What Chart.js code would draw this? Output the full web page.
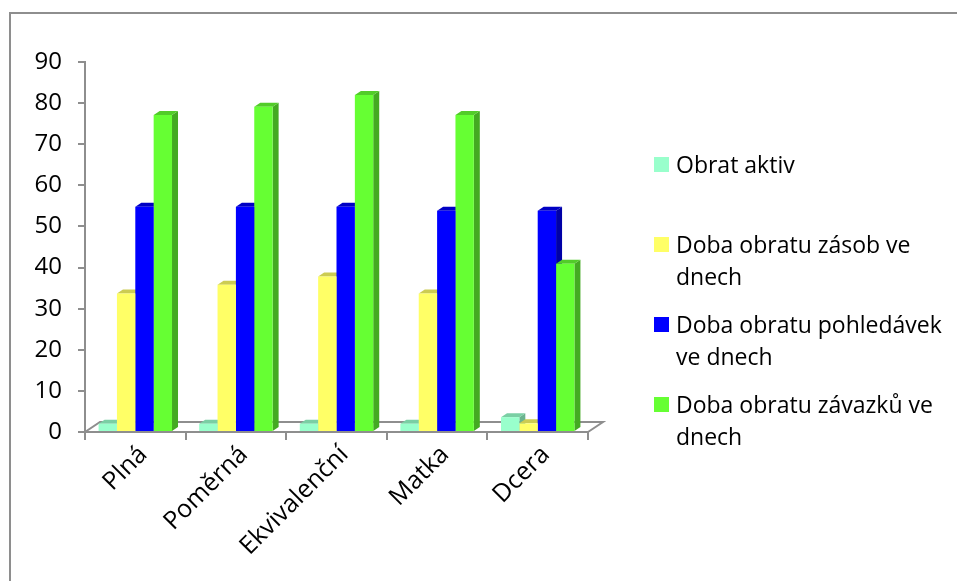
<!DOCTYPE html>
<html>
<head>
<meta charset="utf-8">
<script src="https://cdn.jsdelivr.net/npm/chart.js@4"></script>
<style>
  html, body { margin: 0; padding: 0; background: #fff; }
  #wrap { position: relative; width: 957px; height: 581px; overflow: hidden; }
  #frame { position: absolute; left: 9px; top: 12px; width: 1200px; height: 1200px; border: 2px solid #8e8e8e; }
  #c { position: absolute; left: 0; top: 0; }
  #legend { position: absolute; left: 654px; top: 148px; font-family: 'Open Sans', sans-serif; font-size: 23px; line-height: 32px; color: #000; }
  .item { position: relative; height: 80px; padding-left: 22px; width: 275px; }
  .sw { position: absolute; left: 0; top: 9px; width: 15px; height: 15px; }
</style>
</head>
<body>
<div id="wrap">
  <div id="frame"></div>
  <canvas id="c" width="957" height="581"></canvas>
  <div id="legend"></div>
</div>
<script>
// Methods of consolidation / entities
const categories = ['Plná', 'Poměrná', 'Ekvivalenční', 'Matka', 'Dcera'];

const seriesNames = [
  'Obrat aktiv',
  'Doba obratu zásob ve dnech',
  'Doba obratu pohledávek ve dnech',
  'Doba obratu závazků ve dnech'
];

// Indicator values per category
const obratAktiv     = [2.0, 2.0, 2.0, 2.0, 3.6];
const dobaZasob      = [33.7, 35.8, 37.8, 33.7, 2.1];
const dobaPohledavek = [54.8, 54.8, 54.8, 53.8, 53.8];
const dobaZavazku    = [77.1, 79.1, 82.0, 77.1, 40.9];

const yMin = 0, yMax = 90, yStep = 10;

// Front / top / side shades for each series
const frontColors = ['#99ffcc', '#ffff66', '#0000ff', '#66ff33'];
const topColors   = ['#7acfa4', '#cccc52', '#0000c4', '#52cc29'];
const sideColors  = ['#6bb38f', '#b3b347', '#0000a6', '#44aa22'];

const seriesValues = [obratAktiv, dobaZasob, dobaPohledavek, dobaZavazku];

const GRAY = '#8e8e8e';
const FAMILY = "'Open Sans', sans-serif";

// Pseudo-3D: floor outline plus top and side faces behind each bar's front face
const depthFaces = {
  id: 'depthFaces',
  beforeDatasetsDraw(chart) {
    const ctx = chart.ctx;
    const xs = chart.scales.x, ys = chart.scales.y;
    const fx = 15, fy = -10;   // floor depth
    const bx = 6, by = -4;     // bar depth
    ctx.save();
    ctx.strokeStyle = GRAY;
    ctx.lineWidth = 2;
    ctx.beginPath();
    ctx.moveTo(xs.left, ys.bottom);
    ctx.lineTo(xs.left + fx, ys.bottom + fy);
    ctx.lineTo(xs.right + fx, ys.bottom + fy);
    ctx.lineTo(xs.right, ys.bottom);
    ctx.stroke();

    const bars = [];
    chart.data.datasets.forEach((ds, i) => {
      chart.getDatasetMeta(i).data.forEach(el => {
        const p = el.getProps(['x', 'y', 'base', 'width'], true);
        bars.push({ i, l: p.x - p.width / 2, r: p.x + p.width / 2, top: p.y, base: p.base });
      });
    });
    const poly = (pts, color) => {
      ctx.fillStyle = color;
      ctx.beginPath();
      ctx.moveTo(pts[0][0], pts[0][1]);
      for (let k = 1; k < pts.length; k++) ctx.lineTo(pts[k][0], pts[k][1]);
      ctx.closePath();
      ctx.fill();
    };
    bars.forEach(b => poly([[b.r, b.top], [b.r + bx, b.top + by], [b.r + bx, b.base + by], [b.r, b.base]], sideColors[b.i]));
    bars.forEach(b => poly([[b.l, b.top], [b.r, b.top], [b.r + bx, b.top + by], [b.l + bx, b.top + by]], topColors[b.i]));
    ctx.restore();
  }
};

new Chart(document.getElementById('c'), {
  type: 'bar',
  data: {
    labels: categories,
    datasets: seriesNames.map((name, i) => ({
      label: name,
      data: seriesValues[i],
      backgroundColor: frontColors[i],
      borderWidth: 0,
      barPercentage: 1.0,
      categoryPercentage: 0.73
    }))
  },
  options: {
    responsive: false,
    animation: false,
    devicePixelRatio: 1,
    layout: { padding: { left: 0, top: 62, right: 369, bottom: 0 } },
    plugins: { legend: { display: false }, tooltip: { enabled: false } },
    scales: {
      x: {
        afterFit(s) { s.height = 581 - 432; },
        grid: { offset: true, drawOnChartArea: false, drawTicks: true, tickLength: 8, color: GRAY, lineWidth: 2 },
        border: { display: true, color: GRAY, width: 2 },
        ticks: { color: '#000', font: { family: FAMILY, size: 25 }, minRotation: 45, maxRotation: 45, padding: 0, labelOffset: 8, autoSkip: false }
      },
      y: {
        min: yMin, max: yMax,
        afterFit(s) { s.width = 85; },
        grid: { drawOnChartArea: false, drawTicks: true, tickLength: 7, color: GRAY, lineWidth: 2 },
        border: { display: true, color: GRAY, width: 2 },
        ticks: { stepSize: yStep, color: '#000', font: { family: FAMILY, size: 24 }, padding: 16 }
      }
    }
  },
  plugins: [depthFaces]
});

// Legend entries built from the series names and colours
const legend = document.getElementById('legend');
seriesNames.forEach((name, i) => {
  const item = document.createElement('div');
  item.className = 'item';
  const sw = document.createElement('span');
  sw.className = 'sw';
  sw.style.background = frontColors[i];
  item.appendChild(sw);
  item.appendChild(document.createTextNode(name));
  legend.appendChild(item);
});
</script>
</body>
</html>
